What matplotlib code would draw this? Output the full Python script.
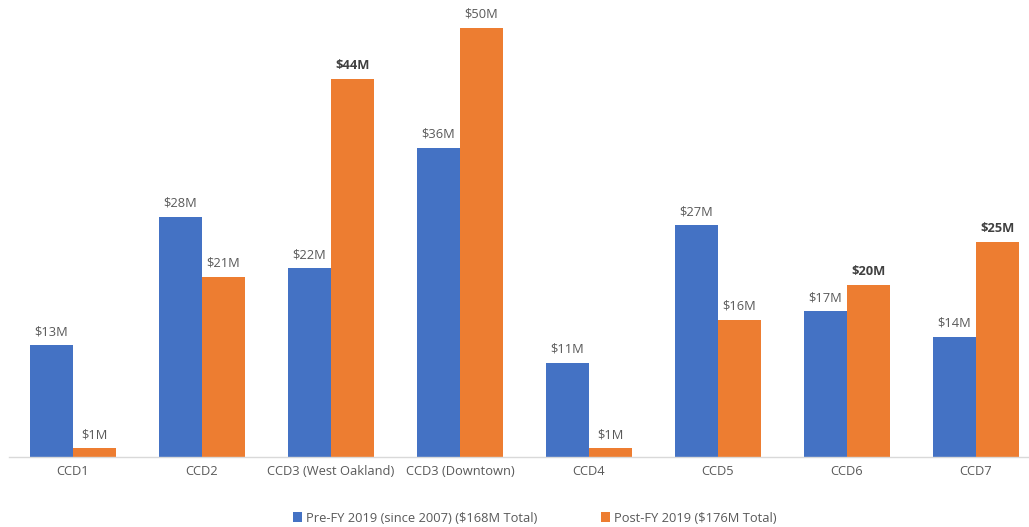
import numpy as np
import matplotlib
matplotlib.use("Agg")
import matplotlib.pyplot as plt

categories = ["CCD1", "CCD2", "CCD3 (West Oakland)", "CCD3 (Downtown)",
              "CCD4", "CCD5", "CCD6", "CCD7"]
pre_fy2019 = [13, 28, 22, 36, 11, 27, 17, 14]
post_fy2019 = [1, 21, 44, 50, 1, 16, 20, 25]
pre_label = "Pre-FY 2019 (since 2007) ($168M Total)"
post_label = "Post-FY 2019 ($176M Total)"

# post labels shown in bold in the original
bold_post = {2, 6, 7}

plt.rcParams['font.family'] = ['Open Sans', 'DejaVu Sans']

blue = "#4472C4"
orange = "#ED7D31"
txt = "#595959"

fig = plt.figure(figsize=(10.29, 5.27), dpi=100)
ax = fig.add_axes([8.5 / 1029, 70 / 527, 8 * 129 / 1029, 455 / 527])

x = np.arange(len(categories))
w = 0.333
b1 = ax.bar(x - w / 2, pre_fy2019, w, color=blue, label=pre_label)
b2 = ax.bar(x + w / 2, post_fy2019, w, color=orange, label=post_label)

for i, v in enumerate(pre_fy2019):
    ax.annotate(f"${v}M", (x[i] - w / 2, v), xytext=(0, 5), textcoords="offset points",
                ha="center", va="bottom", fontsize=9.3, color=txt)
for i, v in enumerate(post_fy2019):
    ax.annotate(f"${v}M", (x[i] + w / 2, v), xytext=(0, 5), textcoords="offset points",
                ha="center", va="bottom", fontsize=9.3, color="#404040" if i in bold_post else txt,
                fontweight="bold" if i in bold_post else "normal")

ax.set_xlim(-0.5, len(categories) - 0.5)
ax.set_ylim(0, 53)
ax.set_xticks(x)
ax.set_xticklabels(categories, fontsize=9.3, color=txt)
ax.tick_params(axis="x", length=0, pad=6)
ax.set_yticks([])
for s in ["top", "right", "left"]:
    ax.spines[s].set_visible(False)
ax.spines["bottom"].set_color("#D9D9D9")
ax.spines["bottom"].set_linewidth(1)

leg = fig.legend(handles=[b1, b2], loc="center", bbox_to_anchor=(535 / 1029, 9 / 527),
                 ncol=2, frameon=False, fontsize=9.3, handlelength=0.7, handleheight=0.7,
                 handletextpad=0.3, columnspacing=4.9)
for t in leg.get_texts():
    t.set_color(txt)

fig.savefig("out.png", dpi=100)
